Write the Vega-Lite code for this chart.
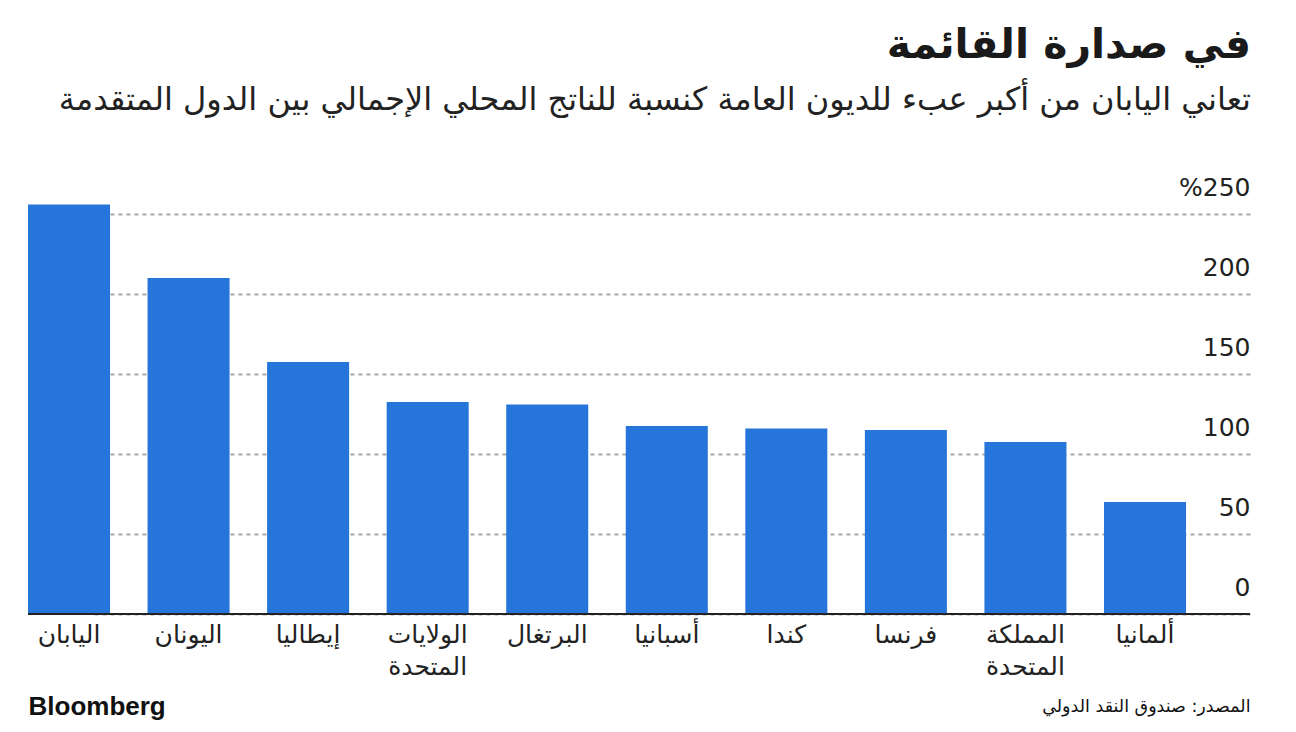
{
  "$schema": "https://vega.github.io/schema/vega-lite/v6.json",
  "autosize": {"type": "none"},
  "width": 1222,
  "height": 400,
  "padding": {"left": 28, "top": 214, "right": 46, "bottom": 118},
  "background": "white",
  "config": {"view": {"stroke": null}, "font": "DejaVu Sans"},
  "title": {
    "text": "في صدارة القائمة",
    "subtitle": "تعاني اليابان من أكبر عبء للديون العامة كنسبة للناتج المحلي الإجمالي بين الدول المتقدمة",
    "anchor": "end",
    "align": "right",
    "fontSize": 41,
    "fontWeight": "bold",
    "color": "#1a1a1a",
    "subtitleFontSize": 32,
    "subtitleColor": "#222222",
    "subtitlePadding": 18,
    "offset": 58
  },
  "data": {
    "values": [
      {"country": "اليابان", "value": 256},
      {"country": "اليونان", "value": 210},
      {"country": "إيطاليا", "value": 157.5},
      {"country": "الولايات المتحدة", "value": 132.5},
      {"country": "البرتغال", "value": 131},
      {"country": "أسبانيا", "value": 117.5},
      {"country": "كندا", "value": 116},
      {"country": "فرنسا", "value": 115},
      {"country": "المملكة المتحدة", "value": 107.5},
      {"country": "ألمانيا", "value": 70}
    ]
  },
  "layer": [
    {
      "mark": {"type": "bar", "color": "#2575DB", "clip": false},
      "encoding": {
        "x": {
          "field": "country",
          "type": "nominal",
          "sort": null,
          "scale": {"range": [0, 1158], "paddingInner": 0.314, "paddingOuter": 0},
          "axis": {
            "title": "المصدر: صندوق النقد الدولي",
            "titleAnchor": "end",
            "titleAlign": "right",
            "titleX": 1222,
            "titleY": 92,
            "titleBaseline": "middle",
            "titleFontSize": 17.5,
            "titleFontWeight": "normal",
            "titleColor": "#111111",
            "labelAngle": 0,
            "labelFontSize": 25,
            "labelColor": "#222222",
            "labelBaseline": "top",
            "labelPadding": 8,
            "labelLineHeight": 32,
            "labelExpr": "split(datum.label, ' ')",
            "ticks": false,
            "domain": false,
            "labelAlign": "center"
          }
        },
        "y": {
          "field": "value",
          "type": "quantitative",
          "scale": {"domain": [0, 250], "nice": false},
          "axis": {
            "orient": "right",
            "values": [0, 50, 100, 150, 200, 250],
            "labelExpr": "datum.value == 250 ? '%250' : datum.label",
            "labelAlign": "right",
            "labelBaseline": "alphabetic",
            "labelOffset": -19,
            "labelPadding": 0,
            "labelFontSize": 25,
            "labelColor": "#222222",
            "ticks": false,
            "domain": false,
            "grid": true,
            "gridColor": "#a8a8a8",
            "gridDash": [4, 4],
            "gridWidth": 2,
            "title": "Bloomberg",
            "titleAngle": 0,
            "titleX": -1222,
            "titleY": 492,
            "titleAlign": "left",
            "titleBaseline": "middle",
            "titleFontSize": 26,
            "titleFontWeight": "bold",
            "titleFont": "Liberation Sans",
            "titleColor": "#111111"
          }
        }
      }
    },
    {
      "mark": {"type": "rule", "color": "#222222", "strokeWidth": 2},
      "encoding": {"y": {"datum": 0}}
    }
  ]
}
